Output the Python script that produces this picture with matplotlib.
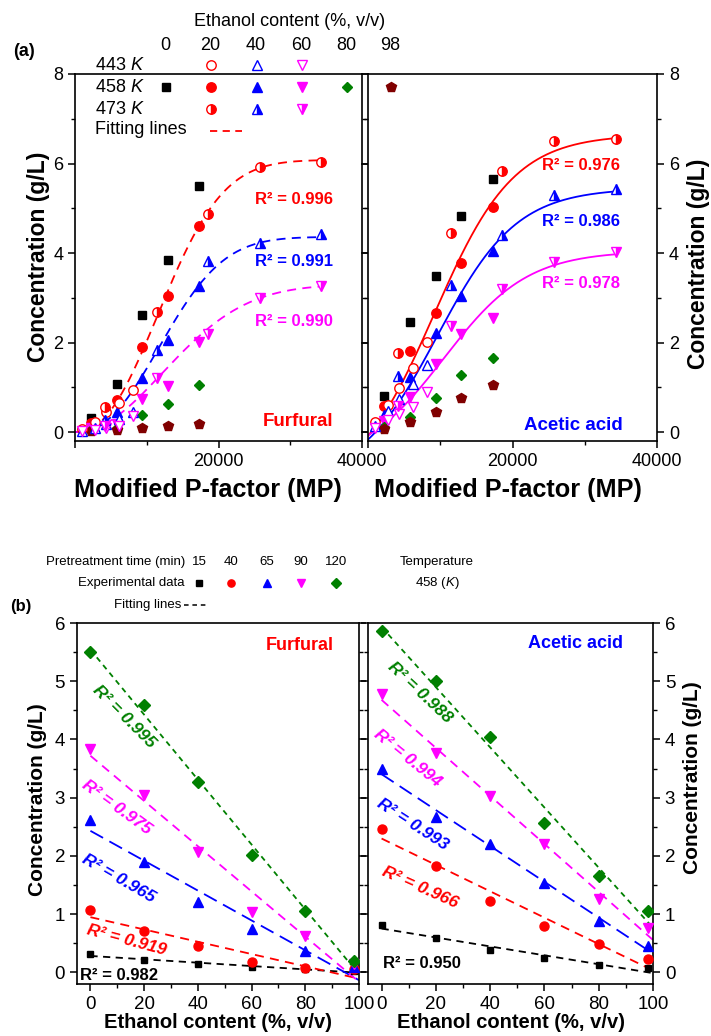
import numpy as np
import matplotlib
matplotlib.use("Agg")
import matplotlib.pyplot as plt
from matplotlib.ticker import FixedLocator, MultipleLocator

plt.rcParams['font.family'] = ['Liberation Sans', 'DejaVu Sans']
plt.rcParams['mathtext.fontset'] = 'custom'
plt.rcParams['mathtext.rm'] = 'Liberation Sans'
plt.rcParams['mathtext.it'] = 'Liberation Sans:italic'
plt.rcParams['mathtext.bf'] = 'Liberation Sans:bold'
plt.rcParams['axes.linewidth'] = 1.2

# ---------------- data ----------------
ethanol = [0, 20, 40, 60, 80, 98]
times = [15, 40, 65, 90, 120]
mp_443 = [970, 2720, 4340, 6180, 8120]
mp_458 = [2220, 5830, 9350, 12900, 17250]
mp_473 = [4200, 11440, 18600, 25800, 34350]

# furfural at 458 K (rows: ethanol content; columns: pretreatment time)
fur_458_e0 = [0.31, 1.07, 2.62, 3.84, 5.50]
fur_458_e20 = [0.21, 0.71, 1.90, 3.04, 4.60]
fur_458_e40 = [0.15, 0.45, 1.21, 2.06, 3.27]
fur_458_e60 = [0.09, 0.18, 0.74, 1.04, 2.02]
fur_458_e80 = [0.05, 0.08, 0.37, 0.63, 1.05]
fur_458_e98 = [0.02, 0.05, 0.10, 0.14, 0.19]
fur_443_e20 = [0.06, 0.23, 0.45, 0.64, 0.95]
fur_443_e40 = [0.03, 0.08, 0.18, 0.30, 0.45]
fur_443_e60 = [0.02, 0.05, 0.10, 0.14, 0.35]
fur_473_e20 = [0.57, 2.68, 4.88, 5.92, 6.04]
fur_473_e40 = [0.27, 1.83, 3.83, 4.22, 4.42]
fur_473_e60 = [0.14, 1.20, 2.20, 2.99, 3.26]

# acetic acid (panel a)
ace_458_e0 = [0.81, 2.46, 3.49, 4.82, 5.65]
ace_458_e20 = [0.59, 1.82, 2.65, 3.77, 5.02]
ace_458_e40 = [0.38, 1.23, 2.21, 3.04, 4.05]
ace_458_e60 = [0.24, 0.79, 1.51, 2.20, 2.55]
ace_458_e80 = [0.11, 0.33, 0.75, 1.27, 1.65]
ace_458_e98 = [0.07, 0.23, 0.44, 0.77, 1.05]
ace_443_e20 = [0.23, 0.60, 0.98, 1.42, 2.02]
ace_443_e40 = [0.14, 0.48, 0.74, 1.07, 1.50]
ace_443_e60 = [0.08, 0.28, 0.40, 0.57, 0.90]
ace_473_e20 = [1.76, 4.44, 5.83, 6.50, 6.55]
ace_473_e40 = [1.26, 3.28, 4.41, 5.30, 5.43]
ace_473_e60 = [0.59, 2.38, 3.20, 3.81, 4.03]

# fitted-curve parameters (panel a)
fur_fit = [(6.08, 14840, 2.28), (4.36, 14950, 2.31), (3.30, 16910, 2.05)]   # A, b, n
ace_fit = [(8.0, -1.35, 9200, 5500), (6.6, -1.15, 9600, 5500), (4.8, -0.75, 10500, 5800)]  # A, c, x0, w
fur_r2_a = ['0.996', '0.991', '0.990']
ace_r2_a = ['0.976', '0.986', '0.978']

# panel b: acetic acid at 458 K (rows: time; columns: ethanol)
ace_b_t15 = [0.82, 0.59, 0.38, 0.24, 0.13, 0.07]
ace_b_t40 = [2.46, 1.83, 1.23, 0.80, 0.49, 0.23]
ace_b_t65 = [3.50, 2.66, 2.21, 1.53, 0.89, 0.45]
ace_b_t90 = [4.78, 3.76, 3.03, 2.20, 1.26, 0.76]
ace_b_t120 = [5.86, 5.01, 4.05, 2.57, 1.65, 1.05]
fur_r2_b = ['0.982', '0.919', '0.965', '0.975', '0.995']
ace_r2_b = ['0.950', '0.966', '0.993', '0.994', '0.988']

# ---------------- styles ----------------
COL = {0: 'black', 20: '#ff0000', 40: '#0000ff', 60: '#ff00ff', 80: '#008000', 98: '#800000'}
MRK = {0: 's', 20: 'o', 40: '^', 60: 'v', 80: 'D', 98: 'p'}
MS = {0: 5.5, 20: 6.8, 40: 7.4, 60: 7.4, 80: 5.6, 98: 7.2}
TCOL = ['black', '#ff0000', '#0000ff', '#ff00ff', '#008000']
TMRK = ['s', 'o', '^', 'v', 'D']
TMS = [5.0, 6.5, 7.4, 7.4, 5.8]
TDASH = [(0, (4, 3)), (0, (5, 3.5)), (0, (8, 4)), (0, (5, 3.5)), (0, (3, 2.5))]

W, H = 711, 1036
fig = plt.figure(figsize=(W / 100, H / 100), dpi=100)


def weib(x, A, b, n):
    return A * (1 - np.exp(-(x / b) ** n))


def logi(x, A, c, x0, w):
    return c + A / (1 + np.exp(-(x - x0) / w))


def panel_a(ax, d458, d443, d473, fn, params, ls):
    xx = np.linspace(0, 34400, 400)
    for eth, p in zip([20, 40, 60], params):
        ax.plot(xx, fn(xx, *p), color=COL[eth], ls=ls, lw=1.3, zorder=2)
    for eth, vals in zip(ethanol, d458):
        ax.plot(mp_458, vals, ls='none', marker=MRK[eth], ms=MS[eth], color=COL[eth],
                mec=COL[eth], zorder=3)
    for eth, vals in zip([20, 40, 60], d443):
        ax.plot(mp_443, vals, ls='none', marker=MRK[eth], ms=MS[eth], mfc='white',
                mec=COL[eth], mew=1.0, zorder=3)
    for eth, vals in zip([20, 40, 60], d473):
        ax.plot(mp_473, vals, ls='none', marker=MRK[eth], ms=MS[eth], fillstyle='right',
                mfc=COL[eth], mfcalt='white', mec=COL[eth], mew=1.0, zorder=3)
    ax.set_xlim(0, 40000)
    ax.set_ylim(-0.2, 8)
    ax.xaxis.set_major_locator(FixedLocator([0, 20000, 40000]))
    ax.xaxis.set_minor_locator(FixedLocator([10000, 30000]))
    ax.set_xticklabels(['', '20000', '40000'])
    ax.yaxis.set_major_locator(MultipleLocator(2))
    ax.yaxis.set_minor_locator(MultipleLocator(1))
    ax.tick_params(which='major', direction='out', length=5, width=1.1, labelsize=13)
    ax.tick_params(which='minor', direction='out', length=3, width=1.0)


def panel_b(ax, rows, r2list):
    xx = np.array([0, 100])
    for i, vals in enumerate(rows):
        k, b0 = np.polyfit(ethanol, vals, 1)
        ax.plot(xx, k * xx + b0, color=TCOL[i], ls=TDASH[i], lw=1.3, zorder=2)
        ax.plot(ethanol, vals, ls='none', marker=TMRK[i], ms=TMS[i], color=TCOL[i], zorder=3)
    ax.set_xlim(-5, 100)
    ax.set_ylim(-0.2, 6)
    ax.xaxis.set_major_locator(MultipleLocator(20))
    ax.xaxis.set_minor_locator(MultipleLocator(10))
    ax.yaxis.set_major_locator(MultipleLocator(1))
    ax.yaxis.set_minor_locator(MultipleLocator(0.5))
    ax.tick_params(which='major', direction='out', length=5, width=1.1, labelsize=13.5)
    ax.tick_params(which='minor', direction='out', length=3, width=1.0)


axA1 = fig.add_axes([75 / W, 1 - 441 / H, 287 / W, 367 / H])
axA2 = fig.add_axes([368 / W, 1 - 441 / H, 289 / W, 367 / H])
axB1 = fig.add_axes([77 / W, 1 - 984 / H, 282 / W, 361 / H])
axB2 = fig.add_axes([368 / W, 1 - 984 / H, 285 / W, 361 / H])

panel_a(axA1, [fur_458_e0, fur_458_e20, fur_458_e40, fur_458_e60, fur_458_e80, fur_458_e98],
        [fur_443_e20, fur_443_e40, fur_443_e60], [fur_473_e20, fur_473_e40, fur_473_e60],
        weib, fur_fit, (0, (5, 3.5)))
panel_a(axA2, [ace_458_e0, ace_458_e20, ace_458_e40, ace_458_e60, ace_458_e80, ace_458_e98],
        [ace_443_e20, ace_443_e40, ace_443_e60], [ace_473_e20, ace_473_e40, ace_473_e60],
        logi, ace_fit, '-')

# furfural panel b is the transpose of the 458 K data of panel a
fur_mat = np.array([fur_458_e0, fur_458_e20, fur_458_e40, fur_458_e60, fur_458_e80, fur_458_e98]).T
panel_b(axB1, list(fur_mat), fur_r2_b)
panel_b(axB2, [ace_b_t15, ace_b_t40, ace_b_t65, ace_b_t90, ace_b_t120], ace_r2_b)

for ax in (axA1, axB1):
    ax.tick_params(axis='y', which='both', left=True, right=True, labelleft=True, labelright=False)
for ax in (axA2, axB2):
    ax.tick_params(axis='y', which='both', left=True, right=True, labelleft=False, labelright=True)

# ---------------- overlay for legends and annotations ----------------
ov = fig.add_axes([0, 0, 1, 1], zorder=10)
ov.set_xlim(0, W)
ov.set_ylim(H, 0)
ov.axis('off')
ov.patch.set_alpha(0)

B = dict(weight='bold', ha='center', va='center')

# axis labels
ov.text(39, 257, 'Concentration (g/L)', rotation=90, fontsize=16.5, **B)
ov.text(699, 264, 'Concentration (g/L)', rotation=90, fontsize=16.5, **B)
ov.text(208, 490, 'Modified P-factor (MP)', fontsize=18.2, **B)
ov.text(508, 490, 'Modified P-factor (MP)', fontsize=18.2, **B)
ov.text(38, 800, 'Concentration (g/L)', rotation=90, fontsize=15, **B)
ov.text(693, 778, 'Concentration (g/L)', rotation=90, fontsize=15, **B)
ov.text(218, 1022, 'Ethanol content (%, v/v)', fontsize=14.5, **B)
ov.text(511, 1022, 'Ethanol content (%, v/v)', fontsize=14.5, **B)

# legend of panel (a)
ov.text(24, 51, '(a)', fontsize=13, **B)
ov.text(290, 22, 'Ethanol content (%, v/v)', ha='center', va='center', fontsize=13)
leg_x = [165, 210, 256, 301, 346, 390]
for eth, x in zip(ethanol, leg_x):
    ov.text(x, 45, str(eth), ha='center', va='center', fontsize=13)
ov.text(95, 66, '443 $K$', ha='left', va='center', fontsize=13)
ov.text(95, 88, '458 $K$', ha='left', va='center', fontsize=13)
ov.text(95, 109, '473 $K$', ha='left', va='center', fontsize=13)
ov.text(95, 130, 'Fitting lines', ha='left', va='center', fontsize=13)
for eth, x in zip(ethanol, leg_x):
    ov.plot([x + 1], [87], marker=MRK[eth], ms=MS[eth], color=COL[eth], ls='none')
for eth, x in zip([20, 40, 60], leg_x[1:4]):
    ov.plot([x + 1], [65], marker=MRK[eth], ms=MS[eth], mfc='white', mec=COL[eth], mew=1.0, ls='none')
    ov.plot([x + 1], [109], marker=MRK[eth], ms=MS[eth], fillstyle='right', mfc=COL[eth],
            mfcalt='white', mec=COL[eth], mew=1.0, ls='none')
ov.plot([210, 242], [131, 131], color='#ff0000', ls=(0, (4, 3)), lw=1.3)

# annotations panel (a)
for txt, c, y in zip(fur_r2_a, ['#ff0000', '#0000ff', '#ff00ff'], [200, 262, 322]):
    ov.text(294, y, 'R² = ' + txt, color=c, fontsize=12, **B)
for txt, c, y in zip(ace_r2_a, ['#ff0000', '#0000ff', '#ff00ff'], [166, 221, 284]):
    ov.text(581, y, 'R² = ' + txt, color=c, fontsize=12, **B)
ov.text(298, 422, 'Furfural', color='#ff0000', fontsize=13.5, **B)
ov.text(573, 425, 'Acetic acid', color='#0000ff', fontsize=13.5, **B)

# legend of panel (b)
ov.text(21, 606, '(b)', fontsize=12, **B)
ov.text(185, 562, 'Pretreatment time (min)', ha='right', va='center', fontsize=9.5)
ov.text(185, 583, 'Experimental data', ha='right', va='center', fontsize=9.5)
ov.text(181, 605, 'Fitting lines', ha='right', va='center', fontsize=9.5)
ov.plot([184, 208], [605, 605], color='black', ls=(0, (3, 2.5)), lw=1.1)
tleg_x = [199, 231, 267, 301, 336]
for i, (t, x) in enumerate(zip(times, tleg_x)):
    ov.text(x, 562, str(t), ha='center', va='center', fontsize=9.5)
    ov.plot([x], [583], marker=TMRK[i], ms=TMS[i] * 0.8, color=TCOL[i], ls='none')
ov.text(437, 562, 'Temperature', ha='center', va='center', fontsize=9.5)
ov.text(437, 583, '458 ($K$)', ha='center', va='center', fontsize=9.5)

# annotations panel (b)
ov.text(300, 645, 'Furfural', color='#ff0000', fontsize=13, **B)
ov.text(575, 643, 'Acetic acid', color='#0000ff', fontsize=13, **B)
fur_pos = [(119, 975, 0), (127, 940, -15), (119, 878, -30), (117, 807, -36), (124, 717, -45)]
ace_pos = [(422, 963, 0), (420, 887, -24), (413, 824, -33), (408, 758, -39), (420, 693, -43)]
for pos_list, r2 in ((fur_pos, fur_r2_b), (ace_pos, ace_r2_b)):
    for i, ((x, y, rot), txt) in enumerate(zip(pos_list, r2)):
        ov.text(x, y, 'R² = ' + txt, color=TCOL[i], fontsize=12.5 if rot else 12, rotation=rot,
                rotation_mode='anchor', style='normal' if rot == 0 else 'italic', **B)

fig.savefig('out.png', dpi=100)
